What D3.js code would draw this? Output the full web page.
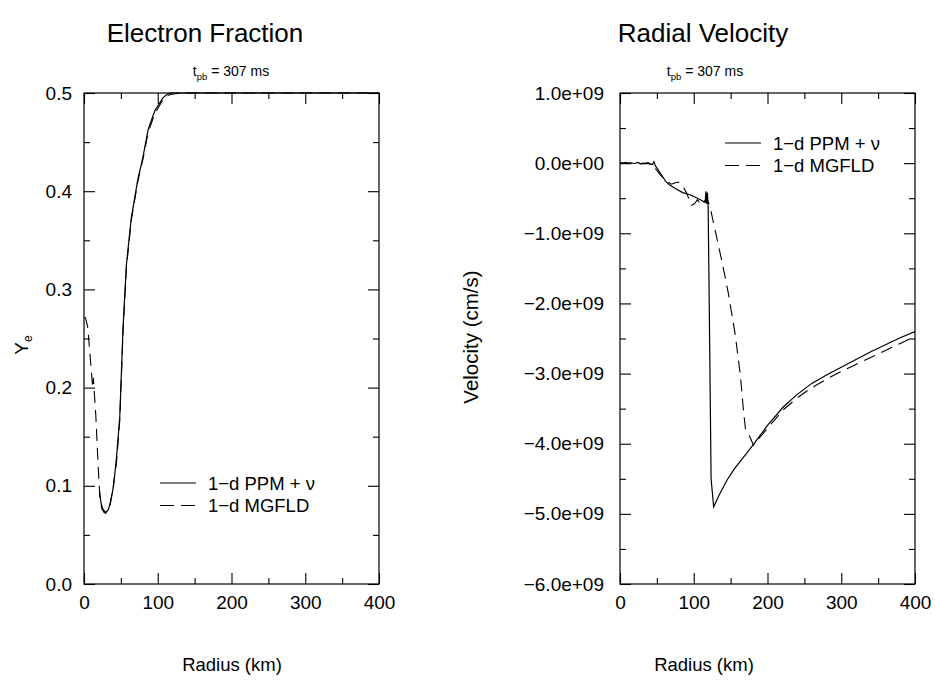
<!DOCTYPE html>
<html>
<head>
<meta charset="utf-8">
<script src="https://cdn.jsdelivr.net/npm/d3@7"></script>
<style>
  html, body { margin: 0; padding: 0; background: #fff; }
  svg { display: block; font-family: "Liberation Sans", Arial, Helvetica, sans-serif; }
</style>
</head>
<body>
<svg id="chart" width="935" height="681"></svg>
<script>
// ---------------- DATA ----------------
// Electron fraction, 1-d MGFLD (dashed)
const yeRadiusMG = [0, 2, 5, 8, 11, 12, 12.8, 13.5, 16, 19, 21.5, 24, 27, 29.5, 32, 35, 39, 44, 48.5, 53, 57.5, 64, 73, 80, 87, 96, 107, 115, 121, 130, 150, 200, 250, 300, 350, 400];
const yeMG       = [0.272, 0.271, 0.262, 0.235, 0.207, 0.2, 0.21, 0.2, 0.172, 0.123, 0.088, 0.077, 0.073, 0.072, 0.075, 0.08, 0.096, 0.123, 0.167, 0.258, 0.322, 0.37, 0.41, 0.433, 0.46, 0.479, 0.493, 0.498, 0.499, 0.5, 0.5, 0.5, 0.5, 0.5, 0.5, 0.5];
// Electron fraction, 1-d PPM + nu (solid)
const yeRadiusPPM = [21, 23, 25, 28, 30, 33, 36, 40, 44, 48.5, 53, 57.5, 64, 73, 80, 87, 96, 107, 113, 118, 125, 140, 200, 300, 400];
const yePPM       = [0.095, 0.083, 0.077, 0.074, 0.073, 0.076, 0.083, 0.1, 0.128, 0.17, 0.262, 0.325, 0.372, 0.412, 0.435, 0.463, 0.482, 0.495, 0.499, 0.5, 0.5, 0.5, 0.5, 0.5, 0.5];

// Radial velocity (units of 1e9 cm/s), 1-d PPM + nu (solid)
const velRadiusPPM = [0, 5, 8, 10, 13, 16, 20, 24, 28, 31, 35, 38, 41, 44, 46, 48, 52, 57, 62, 67, 75, 85, 95, 105, 112, 115.5, 116.5, 117.5, 118.5, 119.5, 121, 123.5, 127, 135, 145, 155, 170, 181, 200, 221, 240, 260, 280, 300, 320, 340, 360, 380, 400];
const velPPM       = [0, 0, 0.01, -0.01, 0.005, 0, -0.005, 0.01, -0.01, 0, -0.01, 0.01, -0.015, -0.02, 0.02, -0.04, -0.1, -0.18, -0.26, -0.31, -0.36, -0.42, -0.45, -0.5, -0.54, -0.56, -0.40, -0.58, -0.42, -0.62, -2.0, -4.5, -4.9, -4.72, -4.52, -4.36, -4.16, -4.01, -3.74, -3.48, -3.30, -3.14, -3.02, -2.91, -2.80, -2.69, -2.59, -2.49, -2.40];
// Radial velocity, 1-d MGFLD (dashed)
const velRadiusMG = [0, 5, 10, 15, 20, 25, 30, 35, 40, 45, 48, 55, 63, 70, 75, 79, 84, 90, 97, 101, 105, 110, 114, 118, 122, 129, 138, 147, 156, 163, 167, 170, 176, 181, 200, 221, 240, 260, 280, 300, 320, 340, 360, 380, 400];
const velMG       = [0, 0, 0.005, -0.005, 0, 0, -0.01, 0, -0.01, -0.02, -0.08, -0.17, -0.26, -0.3, -0.28, -0.27, -0.31, -0.42, -0.6, -0.58, -0.52, -0.6, -0.55, -0.5, -0.62, -0.96, -1.39, -1.86, -2.43, -3.0, -3.48, -3.78, -3.9, -4.02, -3.78, -3.52, -3.35, -3.20, -3.08, -2.97, -2.87, -2.77, -2.67, -2.57, -2.47];

// Ticks
const xMajorTicks = [0, 100, 200, 300, 400];
const xMinorTicks = [50, 150, 250, 350];
const yeMajorTicks = [0, 0.1, 0.2, 0.3, 0.4, 0.5];
const yeMinorTicks = [0.05, 0.15, 0.25, 0.35, 0.45];
const yeTickLabels = ["0.0", "0.1", "0.2", "0.3", "0.4", "0.5"];
const velMajorTicks = [1, 0, -1, -2, -3, -4, -5, -6];
const velMinorTicks = [0.5, -0.5, -1.5, -2.5, -3.5, -4.5, -5.5];
const velTickLabels = ["1.0e+09", "0.0e+00", "\u22121.0e+09", "\u22122.0e+09", "\u22123.0e+09", "\u22124.0e+09", "\u22125.0e+09", "\u22126.0e+09"];

const seriesNames = ["1\u2212d PPM + \u03bd", "1\u2212d MGFLD"];

// ---------------- DRAW ----------------
const svg = d3.select("#chart");
const plotTop = 93, plotBottom = 584;
const majorLen = 11, minorLen = 6;
const dash = "12,7";

function panel(opts) {
  const g = svg.append("g");
  const x = d3.scaleLinear().domain([0, 400]).range([opts.x0, opts.x1]);
  const y = d3.scaleLinear().domain(opts.yDomain).range([plotBottom, plotTop]);

  g.append("rect").attr("x", opts.x0).attr("y", plotTop)
    .attr("width", opts.x1 - opts.x0).attr("height", plotBottom - plotTop)
    .attr("fill", "none").attr("stroke", "#000").attr("stroke-width", 1.2);

  const styleAxis = fs => sel => {
    sel.select(".domain").remove();
    sel.selectAll(".tick line").attr("stroke", "#000").attr("stroke-width", 1.1);
    sel.selectAll(".tick text").attr("fill", "#000").attr("font-size", fs)
      .attr("font-family", "Liberation Sans, Arial, Helvetica, sans-serif");
  };

  g.append("g").attr("transform", `translate(0,${plotBottom})`)
    .call(d3.axisBottom(x).tickValues(xMajorTicks).tickSize(-majorLen).tickPadding(12).tickFormat(d3.format("d")))
    .call(styleAxis(19));
  g.append("g").attr("transform", `translate(0,${plotBottom})`)
    .call(d3.axisBottom(x).tickValues(xMinorTicks).tickSize(-minorLen).tickFormat(""))
    .call(styleAxis(19));
  g.append("g").attr("transform", `translate(0,${plotTop})`)
    .call(d3.axisTop(x).tickValues(xMajorTicks).tickSize(-majorLen).tickFormat(""))
    .call(styleAxis(19));
  g.append("g").attr("transform", `translate(0,${plotTop})`)
    .call(d3.axisTop(x).tickValues(xMinorTicks).tickSize(-minorLen).tickFormat(""))
    .call(styleAxis(19));
  g.append("g").attr("transform", `translate(${opts.x0},0)`)
    .call(d3.axisLeft(y).tickValues(opts.yMajor).tickSize(-majorLen).tickPadding(opts.yPad)
      .tickFormat((d, i) => opts.yLabels[i]))
    .call(styleAxis(19));
  g.append("g").attr("transform", `translate(${opts.x0},0)`)
    .call(d3.axisLeft(y).tickValues(opts.yMinor).tickSize(-minorLen).tickFormat(""))
    .call(styleAxis(19));
  g.append("g").attr("transform", `translate(${opts.x1},0)`)
    .call(d3.axisRight(y).tickValues(opts.yMajor).tickSize(-majorLen).tickFormat(""))
    .call(styleAxis(19));
  g.append("g").attr("transform", `translate(${opts.x1},0)`)
    .call(d3.axisRight(y).tickValues(opts.yMinor).tickSize(-minorLen).tickFormat(""))
    .call(styleAxis(19));

  const line = d3.line().x(d => x(d[0])).y(d => y(d[1]));
  const clipId = "clip" + opts.x0;
  g.append("clipPath").attr("id", clipId).append("rect")
    .attr("x", opts.x0).attr("y", plotTop - 2).attr("width", opts.x1 - opts.x0).attr("height", plotBottom - plotTop + 4);

  g.append("path").datum(d3.zip(opts.rMG, opts.vMG))
    .attr("d", line).attr("fill", "none").attr("stroke", "#000")
    .attr("stroke-width", 1.1).attr("stroke-dasharray", dash).attr("clip-path", `url(#${clipId})`);
  g.append("path").datum(d3.zip(opts.rPPM, opts.vPPM))
    .attr("d", line).attr("fill", "none").attr("stroke", "#000")
    .attr("stroke-width", 1.2).attr("clip-path", `url(#${clipId})`);

  g.append("text").attr("x", opts.titleX).attr("y", 42).attr("text-anchor", "middle")
    .attr("font-size", 26).attr("fill", "#000").text(opts.title);
  const st = g.append("text").attr("x", opts.subX).attr("y", 76).attr("text-anchor", "middle")
    .attr("font-size", 14).attr("fill", "#000");
  st.append("tspan").text("t");
  st.append("tspan").attr("font-size", 9.5).attr("dy", 4).text("pb");
  st.append("tspan").attr("dy", -4).text(" = 307 ms");

  g.append("text").attr("x", opts.xLabelX).attr("y", 671).attr("text-anchor", "middle")
    .attr("font-size", 18.5).attr("fill", "#000").text("Radius (km)");

  const lg = g.append("g");
  seriesNames.forEach((name, i) => {
    const yy = opts.legY + i * 22.5;
    lg.append("line").attr("x1", opts.legX).attr("x2", opts.legX + 36)
      .attr("y1", yy).attr("y2", yy).attr("stroke", "#000").attr("stroke-width", 1.1)
      .attr("stroke-dasharray", i === 1 ? "14,7" : null);
    lg.append("text").attr("x", opts.legX + 48).attr("y", yy + 6.5)
      .attr("font-size", 18.5).attr("fill", "#000").text(name);
  });
  return g;
}

panel({
  x0: 84, x1: 379, yDomain: [0, 0.5], yPad: 12,
  yMajor: yeMajorTicks, yMinor: yeMinorTicks, yLabels: yeTickLabels,
  rMG: yeRadiusMG, vMG: yeMG, rPPM: yeRadiusPPM, vPPM: yePPM,
  title: "Electron Fraction", titleX: 205, subX: 231, xLabelX: 232,
  legX: 160, legY: 483
});

panel({
  x0: 620, x1: 915, yDomain: [-6, 1], yPad: 16,
  yMajor: velMajorTicks, yMinor: velMinorTicks, yLabels: velTickLabels,
  rMG: velRadiusMG, vMG: velMG, rPPM: velRadiusPPM, vPPM: velPPM,
  title: "Radial Velocity", titleX: 703, subX: 705, xLabelX: 704,
  legX: 725, legY: 143
});

const yl = svg.append("text").attr("transform", "translate(28,345) rotate(-90)")
  .attr("text-anchor", "middle").attr("font-size", 19).attr("fill", "#000");
yl.append("tspan").text("Y");
yl.append("tspan").attr("font-size", 12).attr("dy", 4).text("e");

svg.append("text").attr("transform", "translate(478,337) rotate(-90)")
  .attr("text-anchor", "middle").attr("font-size", 20.5).attr("fill", "#000")
  .text("Velocity (cm/s)");
</script>
</body>
</html>
